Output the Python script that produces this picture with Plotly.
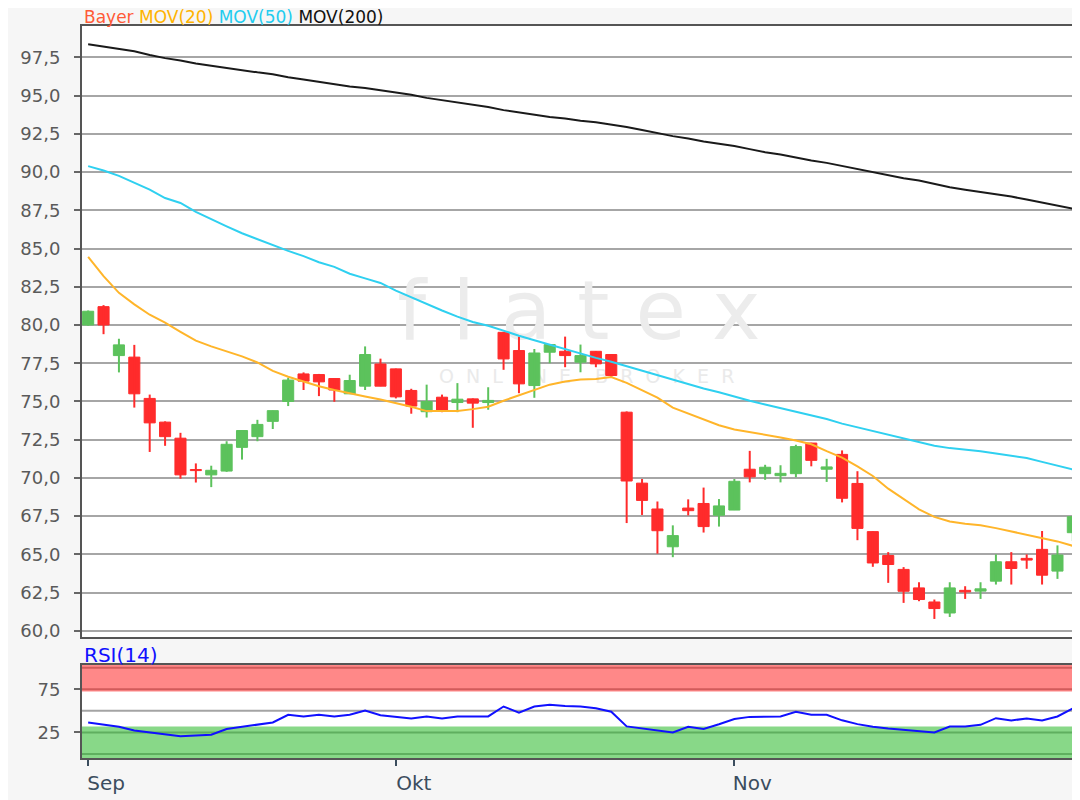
import plotly.graph_objects as go

# ---------------- data ----------------
month_labels = ["Sep", "Okt", "Nov", "Dez"]
month_tick_index = [0, 20, 42, 64]

open_ = [80.0, 81.2, 78.0, 77.9, 75.2, 73.65, 72.6, 70.55, 70.2, 70.45,
         72.0, 72.7, 73.7, 75.0, 76.8, 76.76, 76.5, 75.5, 76.0, 77.45,
         77.13, 75.72, 74.33, 75.28, 74.93, 75.17, 74.93, 79.52, 78.33, 76.04,
         78.22, 78.28, 77.57, 78.28, 78.07, 74.3, 69.66, 67.97, 65.5, 68.03,
         68.33, 67.56, 67.9, 70.57, 70.28, 70.15, 70.28, 72.28, 70.57, 71.54,
         69.64, 66.49, 64.93, 64.02, 62.81, 61.89, 61.17, 62.65, 62.6, 63.25,
         64.52, 64.74, 65.33, 63.91, 66.42]
high = [80.95, 81.3, 79.1, 78.7, 75.45, 73.7, 72.95, 70.95, 70.8, 72.4,
        73.1, 73.8, 74.4, 76.55, 76.9, 76.8, 76.5, 76.75, 78.6, 77.8,
        77.15, 75.83, 76.1, 75.45, 76.2, 75.2, 75.93, 79.55, 79.24, 78.43,
        78.72, 79.24, 78.72, 78.3, 78.1, 74.35, 69.93, 68.46, 66.9, 68.6,
        69.37, 68.62, 69.93, 71.77, 70.86, 70.83, 72.17, 72.3, 71.25, 71.8,
        70.44, 66.5, 65.15, 64.17, 63.18, 62.05, 63.18, 62.92, 63.18, 65.0,
        65.15, 65.0, 66.53, 65.59, 67.5]
low = [79.95, 79.4, 76.9, 74.6, 71.7, 72.1, 69.95, 69.7, 69.4, 70.4,
       71.2, 72.4, 73.2, 74.7, 75.75, 75.35, 74.98, 75.5, 75.75, 76.0,
       75.2, 74.2, 73.95, 74.3, 74.3, 73.28, 74.46, 77.07, 75.54, 75.24,
       77.5, 77.24, 76.91, 77.24, 76.54, 67.05, 67.58, 65.05, 64.82, 67.55,
       66.43, 66.82, 67.9, 69.71, 69.88, 69.71, 70.05, 70.76, 69.74, 68.4,
       65.93, 64.19, 63.14, 61.83, 61.94, 60.78, 60.91, 62.09, 62.09, 63.03,
       63.03, 64.06, 63.03, 63.4, 65.88]
close = [80.9, 80.0, 78.7, 75.5, 73.6, 72.7, 70.2, 70.48, 70.5, 72.2,
         73.1, 73.5, 74.4, 76.4, 76.33, 76.28, 75.75, 76.37, 78.07, 76.0,
         75.3, 74.7, 75.0, 74.35, 75.15, 74.89, 75.07, 77.78, 76.15, 78.17,
         78.72, 78.0, 78.0, 77.46, 76.7, 69.8, 68.53, 66.55, 66.23, 67.86,
         66.82, 68.17, 69.78, 70.07, 70.7, 70.3, 72.05, 71.15, 70.72, 68.67,
         66.7, 64.44, 64.34, 62.59, 62.05, 61.46, 62.81, 62.55, 62.75, 64.52,
         64.08, 64.63, 63.64, 64.96, 67.47]
mov20 = [84.46, 83.2, 82.1, 81.35, 80.67, 80.15, 79.55, 78.98, 78.6, 78.3,
         77.95, 77.55, 77.0, 76.62, 76.3, 76.0, 75.75, 75.52, 75.33, 75.13,
         74.9, 74.65, 74.37, 74.35, 74.37, 74.5, 74.66, 75.05, 75.4, 75.75,
         76.1, 76.3, 76.43, 76.47, 76.6, 76.22, 75.75, 75.25, 74.6, 74.2,
         73.85, 73.45, 73.17, 73.0, 72.87, 72.65, 72.45, 72.2, 71.75, 71.33,
         70.75, 70.13, 69.3, 68.6, 67.95, 67.45, 67.15, 67.0, 66.9, 66.72,
         66.5, 66.26, 66.05, 65.85, 65.56]
mov50 = [90.39, 90.1, 89.75, 89.3, 88.85, 88.3, 87.98, 87.4, 86.9, 86.45,
         86.0, 85.6, 85.25, 84.85, 84.5, 84.1, 83.8, 83.35, 83.05, 82.75,
         82.25, 81.8, 81.35, 80.95, 80.55, 80.2, 79.95, 79.6, 79.3, 79.0,
         78.7, 78.4, 78.15, 77.85, 77.6, 77.3, 77.0, 76.7, 76.4, 76.1,
         75.85, 75.6, 75.3, 75.05, 74.8, 74.55, 74.35, 74.1, 73.85, 73.55,
         73.3, 73.05, 72.8, 72.55, 72.3, 72.1, 71.95, 71.85, 71.75, 71.6,
         71.45, 71.3, 71.05, 70.8, 70.55]
mov200 = [98.35, 98.2, 98.05, 97.9, 97.65, 97.45, 97.3, 97.1, 96.95, 96.8,
          96.65, 96.52, 96.4, 96.2, 96.05, 95.9, 95.75, 95.6, 95.5, 95.35,
          95.2, 95.05, 94.85, 94.7, 94.55, 94.4, 94.25, 94.05, 93.9, 93.75,
          93.6, 93.5, 93.35, 93.25, 93.1, 92.95, 92.75, 92.55, 92.35, 92.2,
          92.0, 91.85, 91.7, 91.5, 91.3, 91.15, 90.95, 90.75, 90.6, 90.4,
          90.2, 90.0, 89.8, 89.6, 89.45, 89.2, 89.0, 88.85, 88.7, 88.55,
          88.4, 88.2, 88.0, 87.8, 87.6]
rsi14 = [36.5, 34, 31.5, 27.3, 25, 23, 20.5, 21.5, 22.3, 29,
         31.5, 33.5, 36.5, 45.4, 43.5, 45.4, 43.5, 45.4, 50.4, 45,
         43, 41.2, 43.5, 41.2, 43.5, 43.5, 43.5, 55, 48, 55,
         57, 55.5, 55, 53, 49, 32, 29.5, 27.5, 25, 31.5,
         29, 34.5, 40.5, 43, 43.5, 43.5, 49, 45.4, 45.4, 39,
         34.6, 31.5, 29.5, 28, 27.3, 25, 31.9, 31.9, 33.8, 41.5,
         38.8, 41.2, 38.8, 43.5, 52.7]
price_ticks = [60.0, 62.5, 65.0, 67.5, 70.0, 72.5, 75.0, 77.5, 80.0, 82.5,
               85.0, 87.5, 90.0, 92.5, 95.0, 97.5]
rsi_ticks = [25, 75]
rsi_levels = [0, 25, 50, 75, 100]

# ---------------- styling ----------------
GREEN = "#5cc25c"
RED = "#ff2b2b"
FONT = "DejaVu Sans"
idx = list(range(len(close)))
XR = [-0.4, 64.27]
YR = [59.6, 99.55]
RSI_R = [-4.6, 103]

fig = go.Figure()

# watermark on base axes (drawn beneath the overlaid price axes)
fig.add_trace(go.Scatter(x=[31.9], y=[80.4], mode="text",
                         text=["f l a t e x"],
                         textfont=dict(family=FONT, size=82, color="#ececec"),
                         xaxis="x", yaxis="y", hoverinfo="skip"))
fig.add_trace(go.Scatter(x=[32.4], y=[76.55], mode="text",
                         text=["O  N  L  I  N  E    B  R  O  K  E  R"],
                         textfont=dict(family=FONT, size=19, color="#eaeaea"),
                         xaxis="x", yaxis="y", hoverinfo="skip"))

# candles
up = [c >= o for o, c in zip(open_, close)]
bar_colors = [GREEN if u else RED for u in up]
fig.add_trace(go.Bar(x=idx, base=[min(o, c) for o, c in zip(open_, close)],
                     y=[abs(c - o) for o, c in zip(open_, close)],
                     width=0.72, marker=dict(color=bar_colors,
                                             line=dict(color=bar_colors, width=1)),
                     xaxis="x3", yaxis="y3", hoverinfo="skip"))
for col, flag in ((GREEN, True), (RED, False)):
    wx, wy = [], []
    for i in idx:
        if up[i] == flag:
            wx += [i, i, None]
            wy += [low[i], high[i], None]
    fig.add_trace(go.Scatter(x=wx, y=wy, mode="lines",
                             line=dict(color=col, width=2),
                             xaxis="x3", yaxis="y3", hoverinfo="skip"))

for series, col in ((mov200, "#1a1a1a"), (mov50, "#2fd0f0"), (mov20, "#ffb52a")):
    fig.add_trace(go.Scatter(x=idx, y=series, mode="lines",
                             line=dict(color=col, width=2),
                             xaxis="x3", yaxis="y3", hoverinfo="skip"))

# RSI
fig.add_trace(go.Scatter(x=idx, y=rsi14, mode="lines",
                         line=dict(color="#1010ff", width=2),
                         xaxis="x2", yaxis="y2", hoverinfo="skip"))

shapes = []
for lv in rsi_levels:
    shapes.append(dict(type="line", xref="x2 domain", yref="y2", x0=0, x1=1,
                       y0=lv, y1=lv, line=dict(color="#a4a4a4", width=2),
                       layer="below"))
shapes.append(dict(type="rect", xref="x2 domain", yref="y2", x0=0, x1=1,
                   y0=72.3, y1=RSI_R[1], fillcolor="rgba(255,17,17,0.5)",
                   line=dict(width=0), layer="below"))
shapes.append(dict(type="rect", xref="x2 domain", yref="y2", x0=0, x1=1,
                   y0=RSI_R[0], y1=31.9, fillcolor="rgba(38,184,38,0.55)",
                   line=dict(width=0), layer="below"))

frame = dict(showline=True, mirror=True, linecolor="#555555", linewidth=2,
             zeroline=False, automargin=False)

# the page body adds an 8px offset, so margins are shifted to compensate
fig.update_layout(
    width=1080, height=800,
    margin=dict(l=74, r=11, t=18, b=50),
    paper_bgcolor="#f6f6f6", plot_bgcolor="#ffffff",
    showlegend=False, separators=",.", hovermode=False,
    shapes=shapes,
    xaxis=dict(domain=[0, 1], range=XR, anchor="y", showgrid=False,
               showticklabels=False, ticks="", **frame),
    yaxis=dict(domain=[0.1653, 1], range=YR, anchor="x", tickvals=price_ticks,
               tickformat=".1f", showgrid=True, gridcolor="#a6a6a6", gridwidth=2,
               ticks="outside", ticklen=6, tickwidth=2, tickcolor="#666666",
               ticklabelstandoff=10,
               tickfont=dict(family=FONT, size=18, color="#5a5a5a"), **frame),
    xaxis3=dict(overlaying="x", range=XR, visible=False, anchor="y3"),
    yaxis3=dict(overlaying="y", range=YR, visible=False, anchor="x3"),
    xaxis2=dict(domain=[0, 1], range=XR, anchor="y2", showgrid=False,
                tickvals=month_tick_index, ticktext=month_labels,
                ticks="outside", ticklen=6, tickwidth=2, tickcolor="#3b4d5e",
                ticklabelshift=18, ticklabeloverflow="allow",
                tickfont=dict(family=FONT, size=20, color="#3b4d5e"), **frame),
    yaxis2=dict(domain=[0, 0.127], range=RSI_R, anchor="x2", tickvals=rsi_ticks,
                showgrid=False, ticks="outside", ticklen=6, tickwidth=2,
                tickcolor="#666666", ticklabelstandoff=10,
                tickfont=dict(family=FONT, size=18, color="#5a5a5a"), **frame),
    annotations=[
        dict(xref="paper", yref="paper", x=0, y=1.012, xanchor="left",
             yanchor="middle", showarrow=False,
             font=dict(family=FONT, size=17),
             text=("<span style='color:#ff5a36'>Bayer</span> "
                   "<span style='color:#ffb300'>MOV(20)</span> "
                   "<span style='color:#22ccf0'>MOV(50)</span> "
                   "<span style='color:#111111'>MOV(200)</span>")),
        dict(xref="paper", yref="paper", x=0, y=0.1407, xanchor="left",
             yanchor="middle", showarrow=False,
             font=dict(family=FONT, size=20, color="#1010ff"), text="RSI(14)"),
    ],
)

fig.write_html("out.html")
